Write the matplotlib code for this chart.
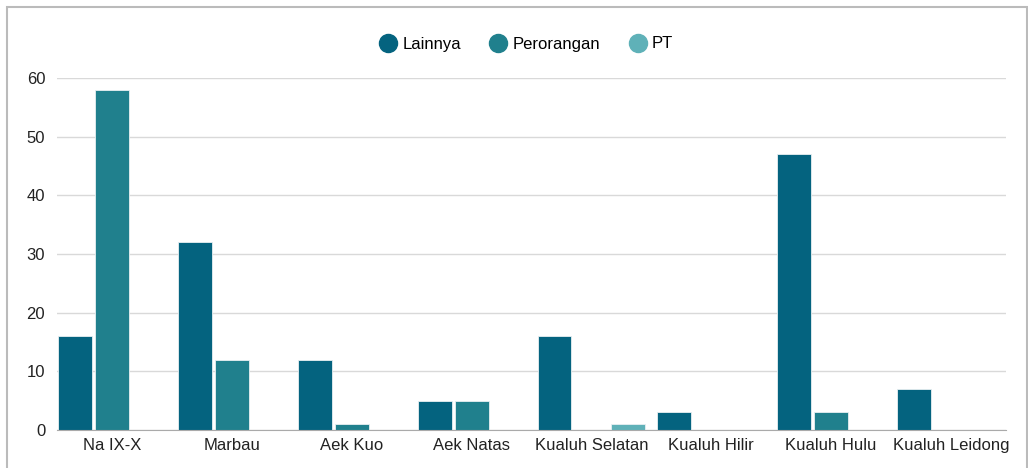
import matplotlib.pyplot as plt
import numpy as np
from matplotlib.patches import Rectangle
from matplotlib.lines import Line2D

plt.rcParams['font.family'] = ['Liberation Sans', 'DejaVu Sans']

kecamatan = ['Na IX-X', 'Marbau', 'Aek Kuo', 'Aek Natas', 'Kualuh Selatan',
             'Kualuh Hilir', 'Kualuh Hulu', 'Kualuh Leidong']
lainnya = [16, 32, 12, 5, 16, 3, 47, 7]
perorangan = [58, 12, 1, 5, 0, 0, 3, 0]
pt = [0, 0, 0, 0, 1, 0, 0, 0]

series = ['Lainnya', 'Perorangan', 'PT']
colors = ['#04637f', '#20808d', '#5fb1b8']

fig = plt.figure(figsize=(10.28, 4.68), dpi=100)
ax = fig.add_axes([57 / 1028, 1 - 430 / 468, 949 / 1028, 352 / 468])

x = np.arange(len(kecamatan))
w = 0.283
step = 0.308
for i, (vals, c) in enumerate(zip([lainnya, perorangan, pt], colors)):
    ax.bar(x + (i - 1) * step, vals, width=w, color=c, zorder=3,
           edgecolor='#e8f0f2', linewidth=0.6)

ax.set_xlim(-step - w / 2 - 0.01, len(kecamatan) - 1 + step + w / 2 + 0.01)
ax.set_ylim(0, 60)
ax.set_yticks(range(0, 61, 10))
ax.set_xticks(x)
ax.set_xticklabels(kecamatan)
ax.tick_params(axis='both', length=0, labelsize=12, colors='#222222')
ax.tick_params(axis='y', pad=8.5)
ax.tick_params(axis='x', pad=6)
ax.grid(axis='y', color='#d9d9d9', linewidth=1, zorder=0)
for s in ['top', 'right', 'left']:
    ax.spines[s].set_visible(False)
ax.spines['bottom'].set_color('#aaaaaa')
ax.spines['bottom'].set_zorder(4)

handles = [Line2D([], [], marker='o', linestyle='', markersize=13,
                  markerfacecolor=c, markeredgecolor=c) for c in colors]
fig.legend(handles, series, loc='center', bbox_to_anchor=(0.510, 1 - 44 / 468),
           ncol=3, frameon=False, fontsize=12, handletextpad=0.1,
           columnspacing=1.5, handlelength=1.5)

# thin gray frame around the chart
fig.patches.append(Rectangle((7 / 1028, -0.05), 1020 / 1028, 1.05 - 7 / 468,
                             transform=fig.transFigure, fill=False,
                             edgecolor='#bbbbbb', linewidth=1.5))

fig.savefig('out.png', dpi=100)
